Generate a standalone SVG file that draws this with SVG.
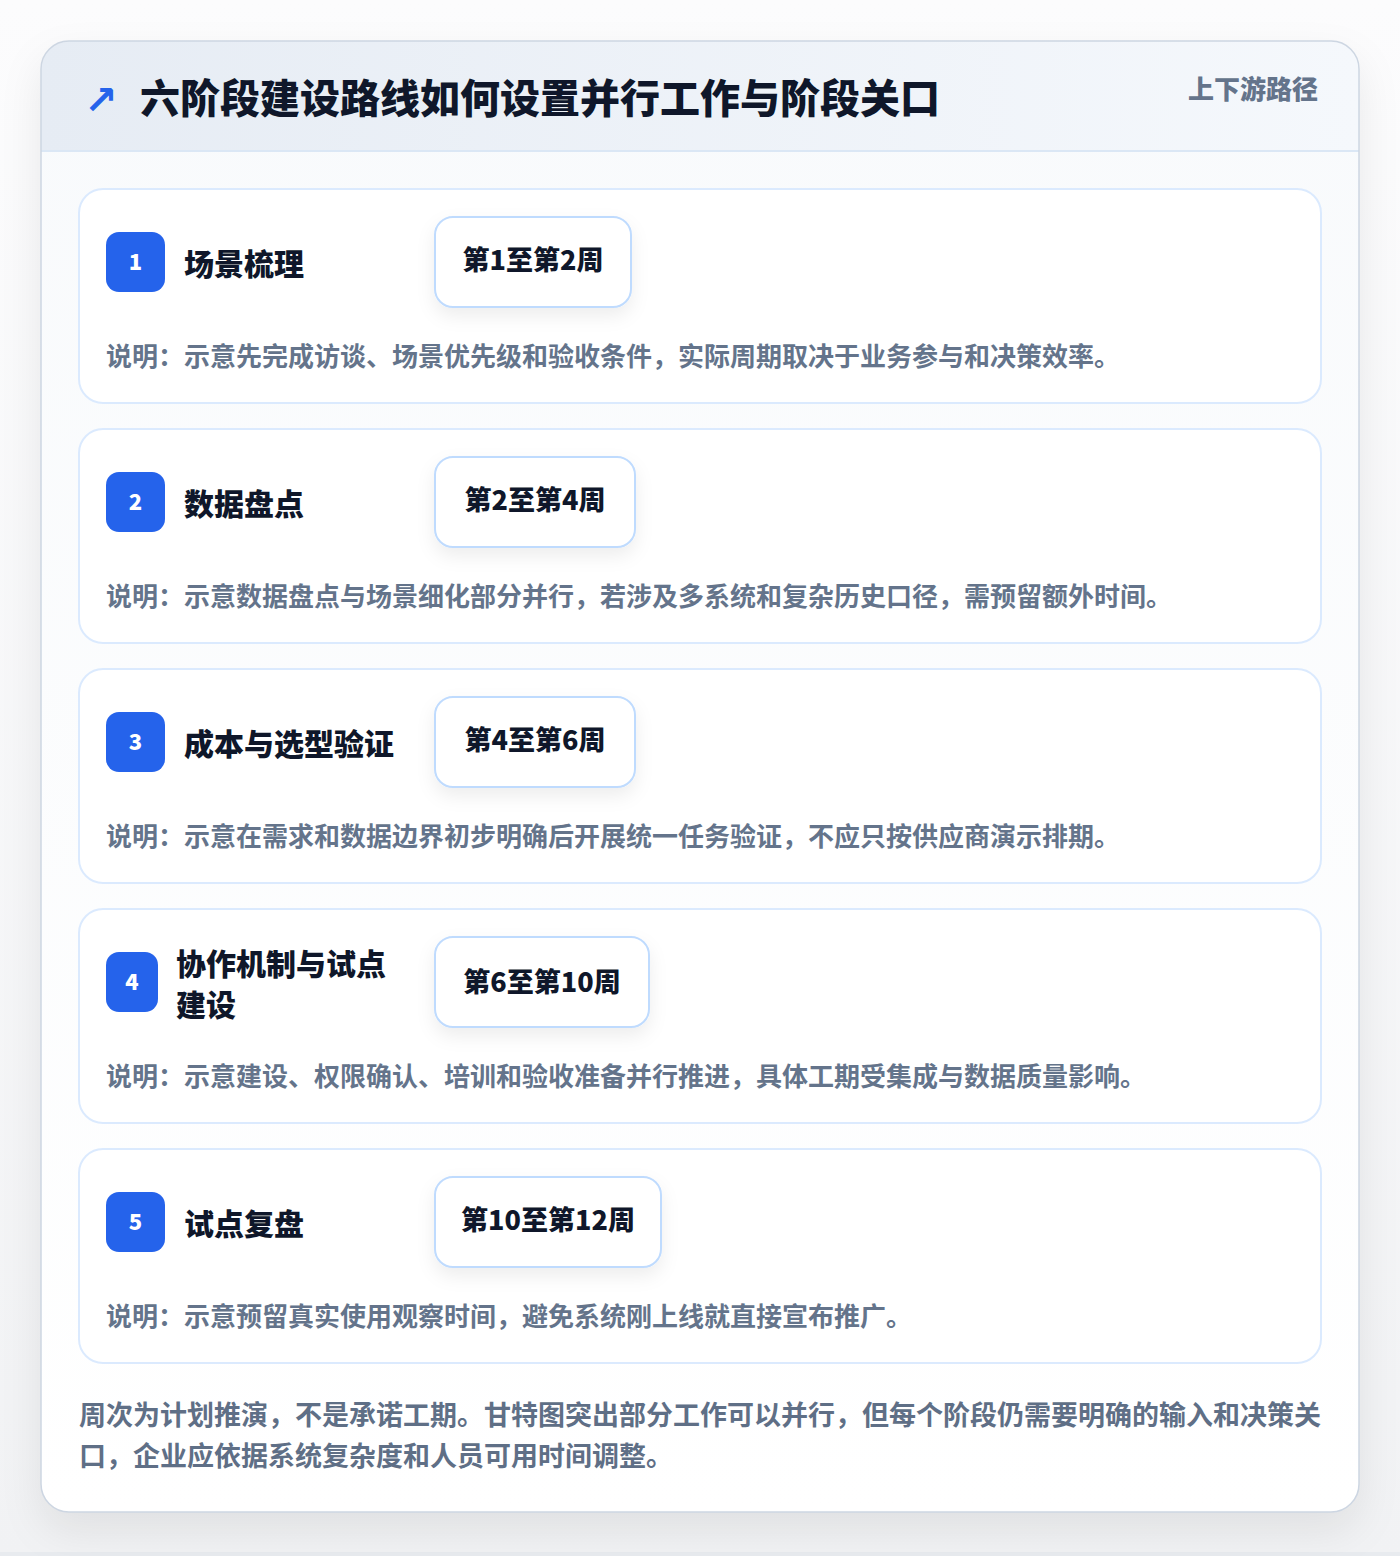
<svg xmlns="http://www.w3.org/2000/svg" width="1400" height="1556" viewBox="0 0 1400 1556">
  <defs>
    <linearGradient id="pageBg" x1="0" y1="0" x2="0" y2="1">
      <stop offset="0" stop-color="#fcfcfd"/>
      <stop offset="1" stop-color="#f1f2f4"/>
    </linearGradient>
    <linearGradient id="headBg" x1="0" y1="0" x2="1" y2="0">
      <stop offset="0" stop-color="#e6ecf4"/>
      <stop offset="1" stop-color="#f5f8fc"/>
    </linearGradient>
    <linearGradient id="bodyBg" x1="0" y1="0" x2="0" y2="1">
      <stop offset="0" stop-color="#f8fafc"/>
      <stop offset="1" stop-color="#ffffff"/>
    </linearGradient>
    <filter id="cardShadow" x="-10%" y="-10%" width="120%" height="120%">
      <feDropShadow dx="0" dy="18" stdDeviation="20" flood-color="#0f172a" flood-opacity="0.08"/>
    </filter>
    <filter id="pillShadow" x="-30%" y="-30%" width="160%" height="180%">
      <feDropShadow dx="0" dy="8" stdDeviation="9" flood-color="#0f172a" flood-opacity="0.07"/>
    </filter>
    <clipPath id="outerClip">
      <rect x="41" y="41" width="1318" height="1471" rx="28"/>
    </clipPath>
    <style>
      text { font-family: "Noto Sans CJK SC", "Noto Sans", "Liberation Sans", sans-serif; font-weight: 700; }
      .title { font-size: 40px; fill: #0f172a; font-weight: 900; }
      .icon { font-family: "DejaVu Sans", sans-serif; font-size: 40px; fill: #2563eb; font-weight: 700; }
      .tag { font-size: 26px; fill: #64748b; font-weight: 900; }
      .card { fill: #ffffff; stroke: #dbeafe; stroke-width: 2; }
      .badge { fill: #2563eb; }
      .num { font-size: 22px; fill: #ffffff; text-anchor: middle; font-weight: 900; }
      .label { font-size: 30px; fill: #0f172a; font-weight: 900; }
      .pill { fill: #ffffff; stroke: #bfdbfe; stroke-width: 2; }
      .pilltext { font-size: 27px; fill: #0f172a; text-anchor: middle; font-weight: 900; }
      .desc { font-size: 26px; fill: #64748b; font-weight: 700; }
      .foot { font-size: 27px; fill: #5f6f86; font-weight: 700; }
    </style>
  </defs>

  <rect x="0" y="0" width="1400" height="1556" fill="url(#pageBg)"/>
  <rect x="0" y="1552" width="1400" height="4" fill="#e8ebef"/>

  <g id="frame">
    <rect x="41" y="41" width="1318" height="1471" rx="28" fill="url(#bodyBg)" filter="url(#cardShadow)"/>
    <g clip-path="url(#outerClip)">
      <rect x="41" y="41" width="1318" height="110" fill="url(#headBg)"/>
      <line x1="41" y1="151" x2="1359" y2="151" stroke="#dbe7f5" stroke-width="2"/>
    </g>
    <rect x="41" y="41" width="1318" height="1471" rx="28" fill="none" stroke="#cdd6e2" stroke-width="1.5"/>
  </g>

  <g id="header">
    <text class="icon" x="84" y="114">↗</text>
    <text class="title" x="140" y="113">六阶段建设路线如何设置并行工作与阶段关口</text>
    <text class="tag" x="1318" y="99" text-anchor="end">上下游路径</text>
  </g>

  <g id="stage1">
    <rect class="card" x="79" y="189" width="1242" height="214" rx="24"/>
    <rect class="badge" x="106" y="232" width="59" height="60" rx="13"/>
    <text class="num" x="135.5" y="270">1</text>
    <text class="label" x="184" y="275">场景梳理</text>
    <rect class="pill" x="435" y="217" width="196" height="90" rx="18" filter="url(#pillShadow)"/>
    <text class="pilltext" x="533" y="270">第1至第2周</text>
    <text class="desc" x="106" y="366">说明：示意先完成访谈、场景优先级和验收条件，实际周期取决于业务参与和决策效率。</text>
  </g>

  <g id="stage2">
    <rect class="card" x="79" y="429" width="1242" height="214" rx="24"/>
    <rect class="badge" x="106" y="472" width="59" height="60" rx="13"/>
    <text class="num" x="135.5" y="510">2</text>
    <text class="label" x="184" y="515">数据盘点</text>
    <rect class="pill" x="435" y="457" width="200" height="90" rx="18" filter="url(#pillShadow)"/>
    <text class="pilltext" x="535" y="510">第2至第4周</text>
    <text class="desc" x="106" y="606">说明：示意数据盘点与场景细化部分并行，若涉及多系统和复杂历史口径，需预留额外时间。</text>
  </g>

  <g id="stage3">
    <rect class="card" x="79" y="669" width="1242" height="214" rx="24"/>
    <rect class="badge" x="106" y="712" width="59" height="60" rx="13"/>
    <text class="num" x="135.5" y="750">3</text>
    <text class="label" x="184" y="755">成本与选型验证</text>
    <rect class="pill" x="435" y="697" width="200" height="90" rx="18" filter="url(#pillShadow)"/>
    <text class="pilltext" x="535" y="750">第4至第6周</text>
    <text class="desc" x="106" y="846">说明：示意在需求和数据边界初步明确后开展统一任务验证，不应只按供应商演示排期。</text>
  </g>

  <g id="stage4">
    <rect class="card" x="79" y="909" width="1242" height="214" rx="24"/>
    <rect class="badge" x="106" y="952" width="52" height="60" rx="13"/>
    <text class="num" x="132" y="990">4</text>
    <text class="label" x="176" y="975">协作机制与试点</text>
    <text class="label" x="176" y="1016">建设</text>
    <rect class="pill" x="435" y="937" width="214" height="90" rx="18" filter="url(#pillShadow)"/>
    <text class="pilltext" x="542" y="992">第6至第10周</text>
    <text class="desc" x="106" y="1086">说明：示意建设、权限确认、培训和验收准备并行推进，具体工期受集成与数据质量影响。</text>
  </g>

  <g id="stage5">
    <rect class="card" x="79" y="1149" width="1242" height="214" rx="24"/>
    <rect class="badge" x="106" y="1192" width="59" height="60" rx="13"/>
    <text class="num" x="135.5" y="1230">5</text>
    <text class="label" x="184" y="1235">试点复盘</text>
    <rect class="pill" x="435" y="1177" width="226" height="90" rx="18" filter="url(#pillShadow)"/>
    <text class="pilltext" x="548" y="1230">第10至第12周</text>
    <text class="desc" x="106" y="1326">说明：示意预留真实使用观察时间，避免系统刚上线就直接宣布推广。</text>
  </g>

  <g id="connectors"></g>

  <g id="footer">
    <text class="foot" x="79" y="1425">周次为计划推演，不是承诺工期。甘特图突出部分工作可以并行，但每个阶段仍需要明确的输入和决策关</text>
    <text class="foot" x="79" y="1466">口，企业应依据系统复杂度和人员可用时间调整。</text>
  </g>
</svg>
